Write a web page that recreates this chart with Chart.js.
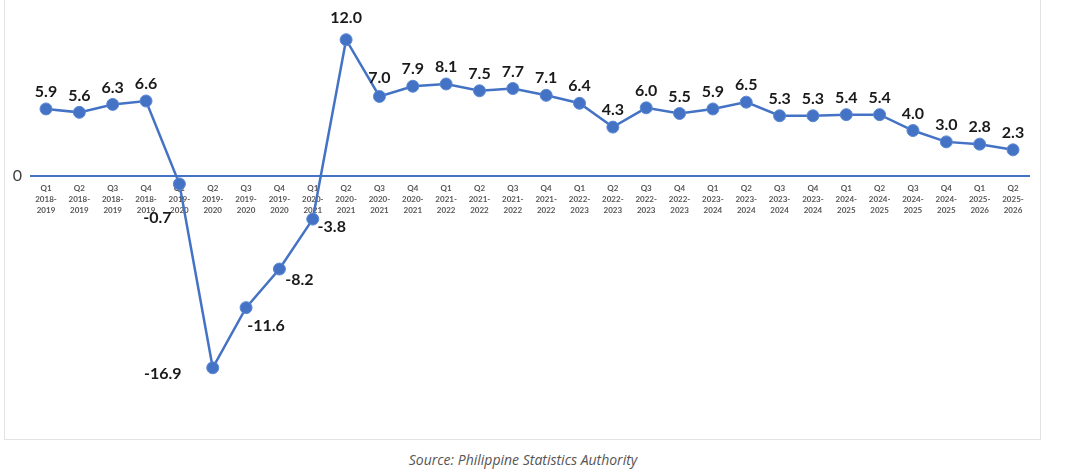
<!DOCTYPE html>
<html>
<head>
<meta charset="utf-8">
<script src="https://cdn.jsdelivr.net/npm/chart.js@4.4.1/dist/chart.umd.min.js"></script>
<style>
  html, body { margin: 0; padding: 0; background: #ffffff; }
  body { width: 1068px; height: 475px; position: relative; overflow: hidden; }
  #box { position: absolute; left: 4px; top: -10px; width: 1037px; height: 450px; border: 1px solid #e3e3e3; box-sizing: border-box; }
  #wrap { position: absolute; left: 0; top: 0; width: 1068px; height: 440px; }
  #source { position: absolute; left: 0; width: 1046px; top: 450px; text-align: center; font-family: "Open Sans", sans-serif; font-style: italic; font-size: 14px; color: #555555; }
</style>
</head>
<body>
<div id="box"></div>
<div id="wrap"><canvas id="c"></canvas></div>
<div id="source">Source: Philippine Statistics Authority</div>
<script>
const quarters = ["Q1","Q2","Q3","Q4","Q1","Q2","Q3","Q4","Q1","Q2","Q3","Q4","Q1","Q2","Q3","Q4","Q1","Q2","Q3","Q4","Q1","Q2","Q3","Q4","Q1","Q2","Q3","Q4","Q1","Q2"];
const fiscalYears = ["2018-2019","2018-2019","2018-2019","2018-2019","2019-2020","2019-2020","2019-2020","2019-2020","2020-2021","2020-2021","2020-2021","2020-2021","2021-2022","2021-2022","2021-2022","2021-2022","2022-2023","2022-2023","2022-2023","2022-2023","2023-2024","2023-2024","2023-2024","2023-2024","2024-2025","2024-2025","2024-2025","2024-2025","2025-2026","2025-2026"];
const growth = [5.9, 5.6, 6.3, 6.6, -0.7, -16.9, -11.6, -8.2, -3.8, 12.0, 7.0, 7.9, 8.1, 7.5, 7.7, 7.1, 6.4, 4.3, 6.0, 5.5, 5.9, 6.5, 5.3, 5.3, 5.4, 5.4, 4.0, 3.0, 2.8, 2.3];
const yTickValues = [0];

const labels = quarters.map((q, i) => {
  const parts = fiscalYears[i].split("-");
  return [q, parts[0] + "-", parts[1]];
});

// label placement (dx, dy in px relative to point centre)
const defaultOffset = [0, -17];
const labelOffsets = { 4: [-22, 34], 5: [-50, 6], 6: [20, 18], 7: [20, 11], 8: [19, 8], 9: [0, -22], 10: [0, -19] };

const blue = "#4472C4";

const valueLabels = {
  id: "valueLabels",
  afterDatasetsDraw(chart) {
    const ctx = chart.ctx;
    const meta = chart.getDatasetMeta(0);
    ctx.save();
    ctx.font = "bold 16px Lato, sans-serif";
    ctx.fillStyle = "#1a1a1a";
    ctx.textAlign = "center";
    ctx.textBaseline = "middle";
    meta.data.forEach((pt, i) => {
      const off = labelOffsets[i] || defaultOffset;
      ctx.fillText(growth[i].toFixed(1), pt.x + off[0], pt.y + off[1]);
    });
    ctx.restore();
  }
};

const zeroLine = {
  id: "zeroLine",
  beforeDatasetsDraw(chart) {
    const ctx = chart.ctx;
    const y = chart.scales.y.getPixelForValue(0);
    const a = chart.chartArea;
    ctx.save();
    ctx.strokeStyle = blue;
    ctx.lineWidth = 2;
    ctx.beginPath();
    ctx.moveTo(a.left - 16, y);
    ctx.lineTo(a.right + 17, y);
    ctx.stroke();
    ctx.restore();
  }
};

new Chart(document.getElementById("c"), {
  type: "line",
  data: {
    labels: labels,
    datasets: [{
      data: growth,
      borderColor: blue,
      borderWidth: 2.5,
      pointRadius: 6,
      pointHoverRadius: 6,
      pointBackgroundColor: blue,
      pointBorderColor: "#5b88d4",
      pointBorderWidth: 1,
      tension: 0,
      clip: false
    }]
  },
  options: {
    responsive: true,
    maintainAspectRatio: false,
    animation: false,
    events: [],
    layout: { padding: { left: 0, right: 55, top: 17, bottom: 37 } },
    plugins: { legend: { display: false }, tooltip: { enabled: false } },
    scales: {
      x: {
        position: { y: 0 },
        offset: false,
        grid: { display: false, drawTicks: false },
        border: { display: false },
        afterFit(axis) { axis.paddingLeft = 0; axis.paddingRight = 0; },
        ticks: {
          autoSkip: false,
          maxRotation: 0,
          minRotation: 0,
          padding: 7,
          color: "#555555",
          font: { family: "Lato, sans-serif", size: 8, weight: "bold", lineHeight: 1.375 }
        }
      },
      y: {
        min: -20,
        max: 14,
        afterBuildTicks(axis) { axis.ticks = yTickValues.map(v => ({ value: v })); },
        afterFit(axis) { axis.width = 46; axis.paddingTop = 0; axis.paddingBottom = 0; },
        grid: { display: false, drawTicks: false },
        border: { display: false },
        ticks: {
          padding: 24,
          color: "#404040",
          font: { family: "Lato, sans-serif", size: 16 }
        }
      }
    }
  },
  plugins: [zeroLine, valueLabels]
});
</script>
</body>
</html>
